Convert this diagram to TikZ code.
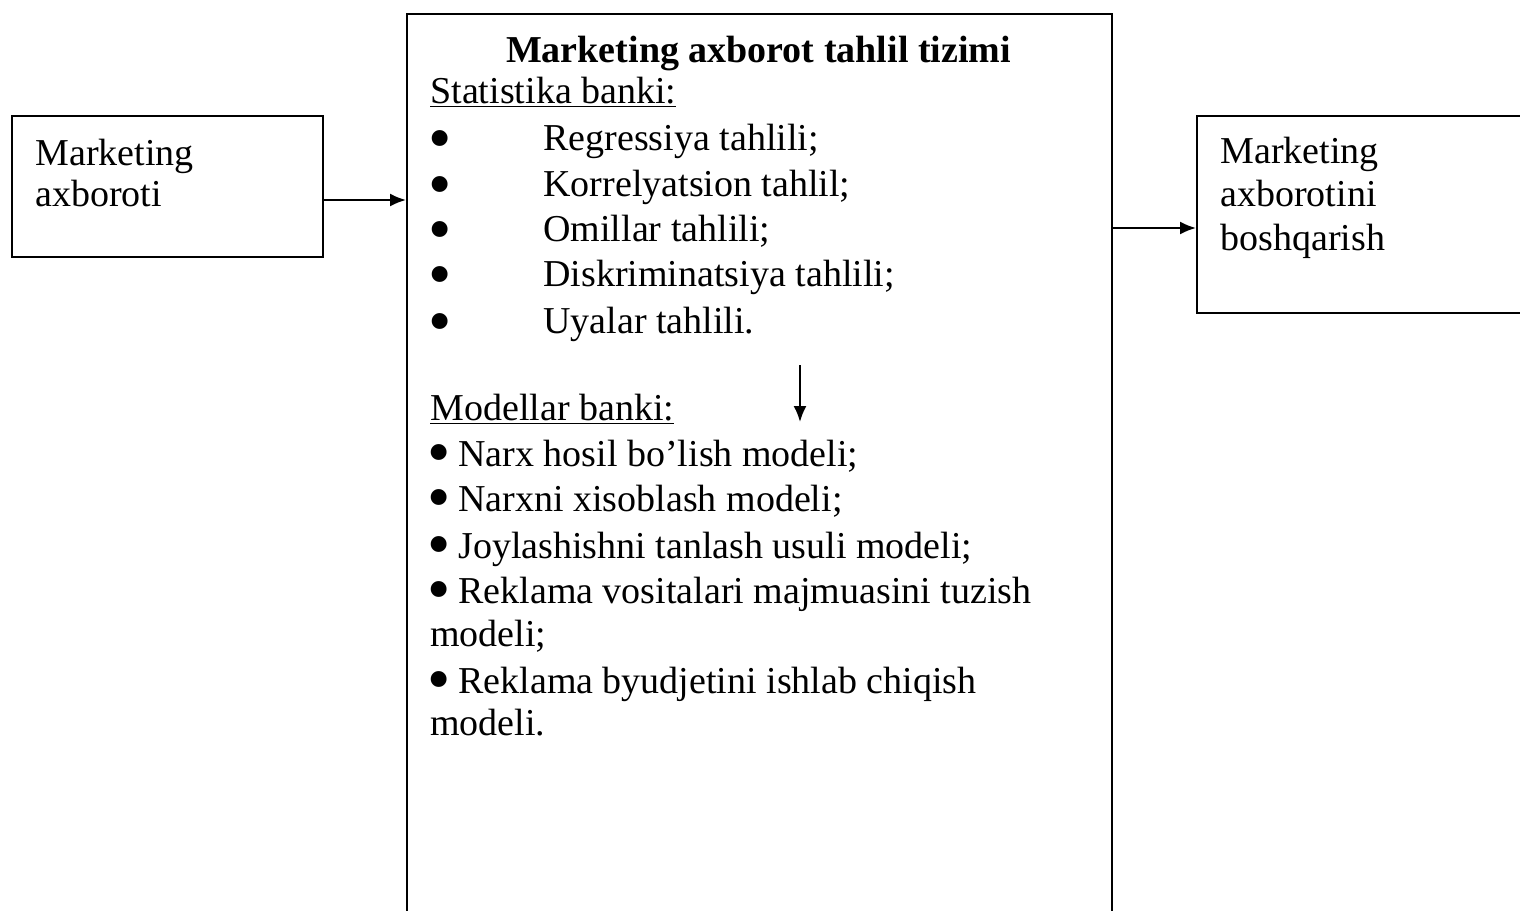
\documentclass[tikz,border=0pt]{standalone}
\usepackage{fontspec}
\setmainfont{Liberation Serif}
\usetikzlibrary{arrows.meta,positioning}

\newcommand{\bigbul}[1][-5.4pt]{\smash{\raisebox{#1}{\scalebox{1.75}{\textbullet}}}}
\newcommand{\mbul}{\makebox[14pt][l]{\kern-1.5pt\bigbul[-4.4pt]}}

\tikzset{
  box/.style={draw,line width=1pt,inner sep=0pt,anchor=north west},
  arr/.style={-{Latex[length=8pt,width=6.5pt]},line width=1pt},
  txt/.style={anchor=base west,inner sep=0pt,font=\fontsize{19}{22}\selectfont},
}

\begin{document}
\begin{tikzpicture}[x=0.5pt,y=-0.5pt]
\useasboundingbox (0,0) rectangle (1520,910);
% boxes
\node[box,minimum width=155.5pt,minimum height=70.5pt] (info) at (11,115) {};
\node[box,minimum width=352.5pt,minimum height=470pt] (sys) at (406,13) {};
\node[box,minimum width=175pt,minimum height=98.5pt] (out) at (1196,115) {};
% side texts
\node[txt] (info1) at (35,165) {Marketing};
\node[txt] (info2) at (35,206) {axboroti};
\node[txt] (out1) at (1220,163) {Marketing};
\node[txt] (out2) at (1220,206) {axborotini};
\node[txt] (out3) at (1220,250) {boshqarish};
% centre box
\node[txt,anchor=base,font=\fontsize{19}{22}\selectfont\bfseries] (title) at (758.5,62) {Marketing axborot tahlil tizimi};
\node[txt] (stat) at (430,103) {\underline{Statistika banki:}};
\foreach \y/\t in {150/Regressiya tahlili;,196/Korrelyatsion tahlil;,241/Omillar tahlili;,286/Diskriminatsiya tahlili;,333/Uyalar tahlili.}{
  \node[txt] (bul\y) at (428,\y) {\bigbul};
  \node[txt] (stat\y) at (543,\y) {\t};
}
\node[txt] (model) at (430,420) {\underline{Modellar banki:}};
\node[txt] (m1) at (430,466) {\mbul Narx hosil bo’lish modeli;};
\node[txt] (m2) at (430,511) {\mbul Narxni xisoblash modeli;};
\node[txt] (m3) at (430,558) {\mbul Joylashishni tanlash usuli modeli;};
\node[txt] (m4) at (430,603) {\mbul Reklama vositalari majmuasini tuzish};
\node[txt] (m4b) at (430,646) {modeli;};
\node[txt] (m5) at (430,693) {\mbul Reklama byudjetini ishlab chiqish};
\node[txt] (m5b) at (430,735) {modeli.};
% arrows
\coordinate (down1) at (800,365);
\coordinate (down2) at (800,422);
\draw[arr] (down1) -- (down2);
\draw[arr] ([yshift=-6.75pt]info.east) -- ([yshift=-6.75pt]info.east -| sys.west);
\draw[arr] ([yshift=-6.75pt]out.west -| sys.east) -- ([yshift=-6.75pt]out.west);
\end{tikzpicture}
\end{document}
